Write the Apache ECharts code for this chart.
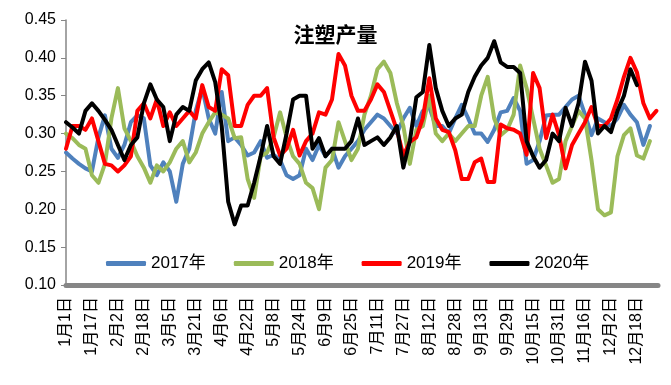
<!DOCTYPE html>
<html>
<head>
<meta charset="utf-8">
<script src="https://cdn.jsdelivr.net/npm/echarts@6/dist/echarts.min.js"></script>
<style>html,body{margin:0;padding:0;background:#fff}#c{width:671px;height:385px}</style>
</head>
<body>
<div id="c"></div>
<script>
// Calendar (leap year, 366 days) used for the category axis
const monthLengths = [31,29,31,30,31,30,31,31,30,31,30,31];
// Sample days (day-of-year index, every 4 days)
const sampleStep = 4;
const seriesNames = ['2017年','2018年','2019年','2020年'];

const v2017 = [0.275,0.267,0.26,0.254,0.25,0.295,0.324,0.28,0.268,0.285,0.315,0.324,0.32,0.258,0.245,0.262,0.25,0.21,0.26,0.28,
0.33,0.36,0.32,0.30,0.355,0.29,0.295,0.285,0.271,0.275,0.29,0.268,0.272,0.265,0.245,0.24,0.245,0.28,0.265,0.285,
0.27,0.28,0.255,0.27,0.28,0.29,0.305,0.315,0.325,0.32,0.31,0.30,0.32,0.334,0.31,0.33,0.335,0.31,0.31,0.30,
0.32,0.338,0.32,0.30,0.30,0.289,0.305,0.328,0.33,0.347,0.33,0.26,0.265,0.29,0.324,0.325,0.325,0.335,0.345,0.35,
0.325,0.298,0.32,0.315,0.31,0.32,0.338,0.325,0.315,0.285,0.31,null];

const v2018 = [0.30,0.294,0.285,0.28,0.245,0.235,0.26,0.32,0.36,0.307,0.29,0.27,0.255,0.235,0.258,0.25,0.262,0.28,0.29,0.262,
0.275,0.30,0.315,0.328,0.325,0.32,0.294,0.295,0.24,0.215,0.27,0.275,0.295,0.328,0.295,0.27,0.26,0.235,0.228,0.20,
0.255,0.265,0.315,0.29,0.265,0.28,0.325,0.35,0.385,0.395,0.38,0.34,0.31,0.26,0.305,0.31,0.35,0.30,0.29,0.30,
0.29,0.30,0.31,0.31,0.35,0.375,0.32,0.298,0.305,0.325,0.39,0.36,0.32,0.28,0.258,0.235,0.24,0.29,0.31,0.33,
0.32,0.265,0.20,0.192,0.196,0.27,0.298,0.307,0.271,0.267,0.29,null];

const v2019 = [0.28,0.31,0.31,0.305,0.32,0.29,0.26,0.258,0.25,0.258,0.27,0.33,0.34,0.32,0.345,0.31,0.328,0.31,0.32,0.33,
0.32,0.364,0.335,0.33,0.385,0.377,0.31,0.31,0.338,0.35,0.35,0.36,0.295,0.271,0.28,0.305,0.271,0.29,0.30,0.328,
0.325,0.345,0.405,0.39,0.35,0.33,0.33,0.345,0.365,0.355,0.33,0.305,0.271,0.289,0.295,0.32,0.373,0.32,0.305,0.302,
0.278,0.24,0.24,0.262,0.267,0.236,0.236,0.312,0.307,0.305,0.30,0.272,0.38,0.36,0.294,0.325,0.298,0.254,0.285,0.30,
0.315,0.335,0.31,0.31,0.32,0.345,0.375,0.4,0.381,0.34,0.32,0.33];

const v2020 = [0.315,0.308,0.30,0.33,0.34,0.33,0.318,0.305,0.285,0.265,0.285,0.295,0.34,0.365,0.345,0.335,0.29,0.325,0.335,0.33,
0.37,0.385,0.394,0.368,0.31,0.21,0.18,0.205,0.205,0.235,0.27,0.31,0.27,0.26,0.30,0.345,0.35,0.35,0.28,0.294,
0.27,0.28,0.28,0.28,0.29,0.32,0.285,0.29,0.295,0.285,0.295,0.31,0.255,0.29,0.348,0.355,0.417,0.36,0.33,0.31,
0.32,0.325,0.355,0.375,0.39,0.40,0.422,0.394,0.388,0.388,0.38,0.29,0.27,0.255,0.265,0.30,0.29,0.334,0.31,0.34,
0.395,0.37,0.30,0.31,0.302,0.33,0.35,0.385,0.364,null,null,null];

const yTicks = [0.10,0.15,0.20,0.25,0.30,0.35,0.40,0.45];

const categories = [];
monthLengths.forEach((len, m) => { for (let d = 1; d <= len; d++) categories.push((m + 1) + '月' + d + '日'); });

function toPairs(vals) {
  const out = [];
  vals.forEach((v, i) => { if (v !== null) out.push([i * sampleStep, v]); });
  return out;
}

const colors = ['#4F81BD', '#9BBB59', '#FF0000', '#000000'];
const allVals = [v2017, v2018, v2019, v2020];
const font = '"Liberation Sans", "Noto Sans CJK SC", sans-serif';

const chart = echarts.init(document.getElementById('c'), null, { renderer: 'canvas' });
chart.setOption({
  animation: false,
  backgroundColor: '#fff',
  title: {
    text: '注塑产量', left: 'center', top: 19,
    textStyle: { fontSize: 21, fontWeight: 'bold', color: '#000', fontFamily: '"Noto Sans CJK SC", sans-serif' }
  },
  legend: {
    data: seriesNames, left: 101, top: 250, itemGap: 28, itemWidth: 40, itemHeight: 5, icon: 'roundRect',
    textStyle: { fontSize: 17, color: '#000', fontFamily: font }
  },
  grid: { left: 66, right: 13, top: 20, bottom: 100, containLabel: false },
  xAxis: {
    type: 'category', data: categories, boundaryGap: false,
    axisLine: { lineStyle: { color: '#868686', width: 5 } },
    axisTick: { show: false },
    axisLabel: { interval: 15, rotate: 90, fontSize: 16, color: '#000', margin: 12, fontFamily: font }
  },
  yAxis: {
    type: 'value', min: yTicks[0], max: yTicks[yTicks.length - 1], interval: 0.05,
    splitLine: { show: false },
    axisLine: { show: true, lineStyle: { color: '#868686', width: 1.5 } },
    axisTick: { show: true, length: 5, lineStyle: { color: '#868686' } },
    axisLabel: { fontSize: 16, color: '#000', margin: 10, fontFamily: font, formatter: v => v.toFixed(2) }
  },
  series: seriesNames.map((n, k) => ({
    name: n, type: 'line', data: toPairs(allVals[k]), showSymbol: false, symbol: 'none',
    lineStyle: { width: 4, color: colors[k], join: 'round', cap: 'round' }, itemStyle: { color: colors[k] }
  }))
});
</script>
</body>
</html>
